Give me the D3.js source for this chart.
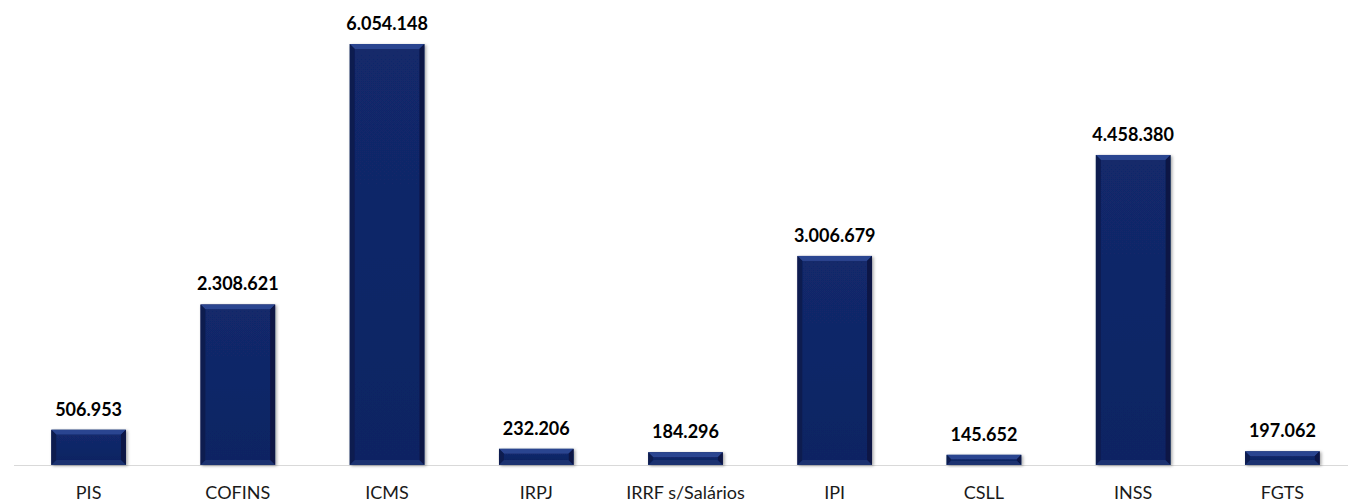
<!DOCTYPE html>
<html>
<head>
<meta charset="utf-8">
<script src="https://cdn.jsdelivr.net/npm/d3@7"></script>
<style>
  body { margin: 0; background: #fff; }
  svg { display: block; font-family: Lato, "Open Sans", sans-serif; }
</style>
</head>
<body>
<svg id="chart"></svg>
<script>
// Categories and values
var categories = ["PIS", "COFINS", "ICMS", "IRPJ", "IRRF s/Salários", "IPI", "CSLL", "INSS", "FGTS"];
var values = [506953, 2308621, 6054148, 232206, 184296, 3006679, 145652, 4458380, 197062];

var data = categories.map(function(c, i) { return { cat: c, value: values[i] }; });

var width = 1348, height = 503;
var baseline = 465;

var svg = d3.select("#chart")
    .attr("width", width)
    .attr("height", height);

var x = d3.scaleBand()
    .domain(categories)
    .range([14, 1357])
    .paddingInner(0.5)
    .paddingOuter(0.25);

var y = d3.scaleLinear()
    .domain([0, 6054148])
    .range([baseline, 44]);

var defs = svg.append("defs");
var f = defs.append("filter").attr("id", "shadow").attr("x", "-20%").attr("y", "-20%").attr("width", "140%").attr("height", "140%");
f.append("feDropShadow").attr("dx", 1.5).attr("dy", 1).attr("stdDeviation", 1.5).attr("flood-color", "#000").attr("flood-opacity", 0.35);

var g = defs.append("linearGradient").attr("id", "face").attr("x1", 0).attr("y1", 0).attr("x2", 0).attr("y2", 1);
g.append("stop").attr("offset", "0%").attr("stop-color", "#12296b");
g.append("stop").attr("offset", "100%").attr("stop-color", "#0f2463");

// Axis line
svg.append("line")
    .attr("x1", 14).attr("x2", 1348)
    .attr("y1", baseline + 0.5).attr("y2", baseline + 0.5)
    .attr("stroke", "#d9d9d9").attr("stroke-width", 1);

var bars = svg.selectAll(".bar")
    .data(data)
    .enter().append("g")
    .attr("class", "bar")
    .attr("filter", "url(#shadow)");

var bev = 5;

bars.each(function(d) {
    var el = d3.select(this);
    var x0 = x(d.cat), x1 = x0 + x.bandwidth();
    var y0 = y(d.value), y1 = y(0);
    var b = Math.min(bev, (y1 - y0) / 2 - 0.5);
    // base
    el.append("rect")
        .attr("x", x0).attr("y", y0)
        .attr("width", x1 - x0).attr("height", y1 - y0)
        .attr("fill", "#0c1f58");
    // top bevel
    el.append("polygon")
        .attr("points", [[x0, y0], [x1, y0], [x1 - b, y0 + b], [x0 + b, y0 + b]].join(" "))
        .attr("fill", "#2b4590");
    // left bevel
    el.append("polygon")
        .attr("points", [[x0, y0], [x0 + b, y0 + b], [x0 + b, y1 - b], [x0, y1]].join(" "))
        .attr("fill", "#0b1c50");
    // right bevel
    el.append("polygon")
        .attr("points", [[x1, y0], [x1 - b, y0 + b], [x1 - b, y1 - b], [x1, y1]].join(" "))
        .attr("fill", "#081645");
    // bottom bevel
    el.append("polygon")
        .attr("points", [[x0, y1], [x0 + b, y1 - b], [x1 - b, y1 - b], [x1, y1]].join(" "))
        .attr("fill", "#1a3070");
    // face
    el.append("rect")
        .attr("x", x0 + b).attr("y", y0 + b)
        .attr("width", x1 - x0 - 2 * b).attr("height", Math.max(0, y1 - y0 - 2 * b))
        .attr("fill", "url(#face)");
});

// Value labels
svg.selectAll(".value-label")
    .data(data)
    .enter().append("text")
    .attr("class", "value-label")
    .attr("x", function(d) { return x(d.cat) + x.bandwidth() / 2; })
    .attr("y", function(d) { return y(d.value) - 14; })
    .attr("text-anchor", "middle")
    .style("font-size", "18px")
    .style("font-weight", "bold")
    .style("fill", "#000")
    .text(function(d) { return d3.format(",")(d.value).replace(/,/g, "."); });

// Category labels
svg.selectAll(".cat-label")
    .data(data)
    .enter().append("text")
    .attr("class", "cat-label")
    .attr("x", function(d) { return x(d.cat) + x.bandwidth() / 2; })
    .attr("y", 499)
    .attr("text-anchor", "middle")
    .style("font-size", "18px")
    .style("fill", "#1a1a1a")
    .text(function(d) { return d.cat; });
</script>
</body>
</html>
